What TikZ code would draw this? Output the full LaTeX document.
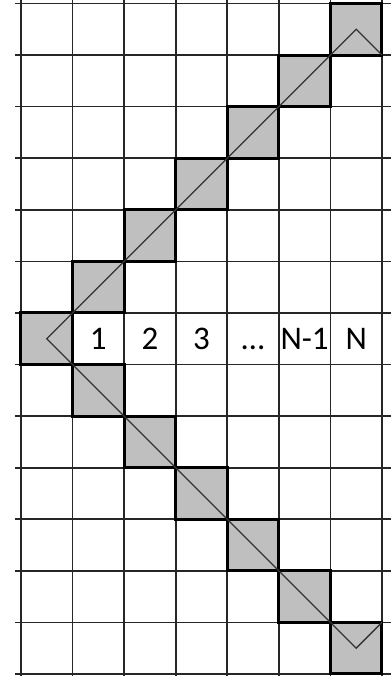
\documentclass[tikz,border=0pt]{standalone}
\usepackage{fontspec}
\setmainfont{Carlito}
\begin{document}
\begin{tikzpicture}[x=51.57pt,y=-51.57pt,
  gridline/.style={draw=black!85,line width=1.7pt},
  shaded/.style={fill=black!25,draw=black,line width=3pt},
  diag/.style={draw=black!80,line width=1.3pt,line join=miter},
  lbl/.style={anchor=base,inner sep=0pt,font=\fontsize{33}{40}\selectfont}]
\useasboundingbox (-0.407,-0.068) rectangle (7.175,13.04);
\fill[white] (-0.407,-0.068) rectangle (7.175,13.04);
% grid
\foreach \i in {0,...,7} \draw[gridline] (\i,-0.07) -- (\i,13.04);
\foreach \j in {0,...,13} \draw[gridline] (-0.116,\j) -- (7.175,\j);
% shaded cells
\foreach \k in {0,...,6} {
  \filldraw[shaded] (\k,6-\k) rectangle ++(1,1);
  \filldraw[shaded] (\k,6+\k) rectangle ++(1,1);
}
% zigzag path
\coordinate (t1) at (7,1);
\coordinate (t2) at (6.5,0.5);
\coordinate (t3) at (6,1);
\coordinate (m1) at (1,6);
\coordinate (m2) at (0.5,6.5);
\coordinate (m3) at (1,7);
\coordinate (b1) at (6,12);
\coordinate (b2) at (6.5,12.5);
\coordinate (b3) at (7,12);
\draw[diag] (t1) -- (t2) -- (t3) -- (m1) -- (m2) -- (m3) -- (b1) -- (b2) -- (b3);
% labels
\node[lbl] (l1) at (1.5,6.713) {1};
\node[lbl] (l2) at (2.5,6.713) {2};
\node[lbl] (l3) at (3.5,6.713) {3};
\node[lbl] (l4) at (4.5,6.713) {…};
\node[lbl] (l5) at (5.5,6.713) {N-1};
\node[lbl] (l6) at (6.5,6.713) {N};
\end{tikzpicture}
\end{document}
